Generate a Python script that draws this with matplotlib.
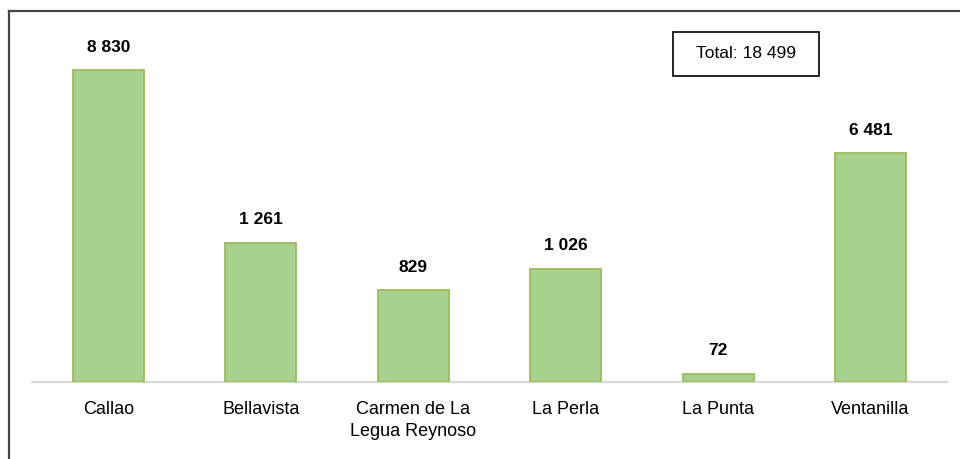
import matplotlib.pyplot as plt
from matplotlib.lines import Line2D
from matplotlib.patches import Rectangle

plt.rcParams["font.family"] = ["Liberation Sans", "DejaVu Sans"]

# districts, large ones sit on a secondary axis like the original
districts = ["Callao", "Bellavista", "Carmen de La\nLegua Reynoso", "La Perla", "La Punta", "Ventanilla"]
values = [8830, 1261, 829, 1026, 72, 6481]
on_secondary = [True, False, False, False, False, True]
total_label = "Total: 18 499"

BAR_FACE = "#a9d18e"
BAR_EDGE = "#9bbb59"


def fmt(v):
    return f"{v:,}".replace(",", " ")


fig = plt.figure(figsize=(9.6, 4.59), dpi=100)
ax = fig.add_axes([0.0336, 0.1684, 0.9525, 0.7684])
ax2 = ax.twinx()

for a in (ax, ax2):
    for side in ("top", "right", "left", "bottom"):
        a.spines[side].set_visible(False)
    a.set_yticks([])
    a.patch.set_visible(False)

xs = range(len(districts))
for x, v, sec in zip(xs, values, on_secondary):
    target = ax2 if sec else ax
    target.bar(x, v, width=0.466, color=BAR_FACE, edgecolor=BAR_EDGE, linewidth=1.3, zorder=3)
    target.annotate(fmt(v), (x, v), xytext=(0, 11), textcoords="offset points",
                    ha="center", va="bottom", fontsize=12.5, fontweight="bold")

ax.set_ylim(0, 3200)
ax2.set_ylim(0, 10000)
ax.set_xlim(-0.5, len(districts) - 0.5)
ax.axhline(0, color="#d9d9d9", linewidth=1.6, zorder=2, clip_on=False)

ax.set_xticks(list(xs))
ax.set_xticklabels(districts, fontsize=13, linespacing=1.35, va="top")
ax.tick_params(axis="x", length=0, pad=14)

# total box
fig.add_artist(Rectangle((0.7014, 0.8351), 0.1521, 0.0946, transform=fig.transFigure,
                         facecolor="white", edgecolor="black", linewidth=1.2))
fig.text(0.7774, 0.8824, total_label, ha="center", va="center", fontsize=12.5)

# frame lines along top and left edge
fig.add_artist(Line2D([0.009, 1.0], [0.976, 0.976], color="#444444", linewidth=1.6,
                      transform=fig.transFigure))
fig.add_artist(Line2D([0.009, 0.009], [0.0, 0.976], color="#444444", linewidth=1.6,
                      transform=fig.transFigure))

fig.savefig("out.png", dpi=100)
